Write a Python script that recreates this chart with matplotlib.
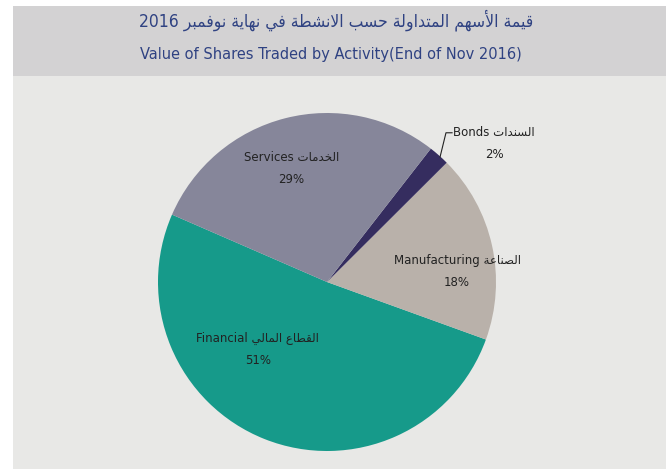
import matplotlib
matplotlib.use('Agg')
from matplotlib import pyplot as plt
from matplotlib.patches import Rectangle

# data
sectors_en = ['Financial', 'Manufacturing', 'Bonds', 'Services']
sectors_ar = ['القطاع المالي', 'الصناعة', 'السندات', 'الخدمات']
shares = [51, 18, 2, 29]
colors = ['#169a8a', '#b9b1aa', '#352d5f', '#86869a']
title_ar = 'قيمة الأسهم المتداولة حسب الانشطة في نهاية نوفمبر'
title_year = '2016'
title_en = 'Value of Shares Traded by Activity(End of Nov 2016)'

# matplotlib has no arabic shaping: map letters to presentation forms
# and reverse for right-to-left display
DUAL = {'ب': 0xFE8F, 'ت': 0xFE95, 'ح': 0xFEA1, 'خ': 0xFEA5, 'س': 0xFEB1,
        'ش': 0xFEB5, 'ص': 0xFEB9, 'ط': 0xFEC1, 'ع': 0xFEC9, 'ف': 0xFED1,
        'ق': 0xFED5, 'ل': 0xFEDD, 'م': 0xFEE1, 'ن': 0xFEE5, 'ه': 0xFEE9,
        'ي': 0xFEF1}
RIGHT = {'ا': 0xFE8D, 'أ': 0xFE83, 'ة': 0xFE93, 'د': 0xFEA9, 'ر': 0xFEAD,
         'و': 0xFEED}
LAMALEF = {'ا': 0xFEFB, 'أ': 0xFEF7}


def ar(text):
    out = []
    prev_joins = False
    i = 0
    n = len(text)
    while i < n:
        c = text[i]
        if c == 'ل' and i + 1 < n and text[i + 1] in LAMALEF:
            out.append(chr(LAMALEF[text[i + 1]] + (1 if prev_joins else 0)))
            prev_joins = False
            i += 2
            continue
        if c in DUAL:
            nxt = text[i + 1] if i + 1 < n else ''
            nj = nxt in DUAL or nxt in RIGHT
            if prev_joins and nj:
                form = 3
            elif prev_joins:
                form = 1
            elif nj:
                form = 2
            else:
                form = 0
            out.append(chr(DUAL[c] + form))
            prev_joins = nj
        elif c in RIGHT:
            out.append(chr(RIGHT[c] + (1 if prev_joins else 0)))
            prev_joins = False
        else:
            out.append(c)
            prev_joins = False
        i += 1
    return ''.join(out)[::-1]


plt.rcParams['font.family'] = ['DejaVu Sans']
W, H = 672, 469
fig = plt.figure(figsize=(W / 100, H / 100), dpi=100)
fig.patch.set_facecolor('white')

# background panels (pixel coords -> figure fraction)
def px_rect(x0, y0, x1, y1, color):
    fig.patches.append(Rectangle((x0 / W, 1 - y1 / H), (x1 - x0) / W,
                                 (y1 - y0) / H, transform=fig.transFigure,
                                 facecolor=color, edgecolor='none', zorder=-5))

px_rect(13, 76, 666, 469, '#e8e8e6')
px_rect(13, 6, 666, 76, '#d3d2d3')

title_color = '#2f4282'
fig.text(336 / W, 1 - 20 / H, title_year + ' ' + ar(title_ar), ha='center',
         va='center', fontsize=12.5, color=title_color, fontstretch='condensed')
fig.text(331 / W, 1 - 55 / H, title_en, ha='center', va='center',
         fontsize=11.7, color=title_color, fontstretch='condensed')

# pie axes: centre (327, 282), radius 169 px
cx, cy, r = 327, 282, 169
ax = fig.add_axes([(cx - r) / W, (H - cy - r) / H, 2 * r / W, 2 * r / H])
ax.set_facecolor('none')
ax.set_zorder(2)
wedges, _ = ax.pie(shares, colors=colors, startangle=156.5,
                   counterclock=True, radius=1,
                   wedgeprops=dict(linewidth=0))
ax.set_xlim(-1, 1)
ax.set_ylim(-1, 1)
ax.set_aspect('equal')
ax.axis('off')

# label positions (axes data units) as laid out in the reference
label_pos = [(-0.41, -0.40), (0.77, 0.065), (0.99, 0.82), (-0.21, 0.67)]
for name, arname, val, (lx, ly) in zip(sectors_en, sectors_ar, shares,
                                         label_pos):
    ax.text(lx, ly, name + ' ' + ar(arname) + '\n' + f'{val}%',
            ha='center', va='center', fontsize=8.5, color='#222222',
            linespacing=1.9, clip_on=False)

# leader line for Bonds
ax.plot([0.669, 0.704, 0.74], [0.740, 0.883, 0.883], color='#222222',
        linewidth=0.8, clip_on=False)

plt.savefig('out.png', dpi=100)
plt.close('all')
